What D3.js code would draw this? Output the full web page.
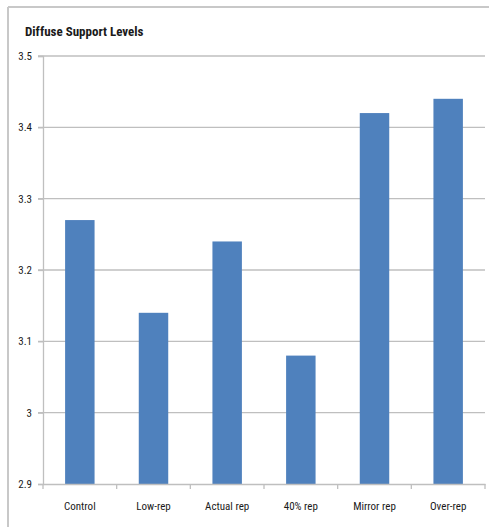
<!DOCTYPE html>
<html>
<head>
<meta charset="utf-8">
<script src="https://cdn.jsdelivr.net/npm/d3@7"></script>
<style>
  html, body { margin: 0; padding: 0; background: #fff; }
  svg { display: block; }
  text { font-family: "Liberation Sans Narrow", "Arial Narrow", "Roboto Condensed", "Liberation Sans", sans-serif; fill: #1a1a1a; }
</style>
</head>
<body>
<svg id="chart" width="489" height="527"></svg>
<script>
const categories = ["Control", "Low-rep", "Actual rep", "40% rep", "Mirror rep", "Over-rep"];
const values = [3.27, 3.14, 3.24, 3.08, 3.42, 3.44];
const yTicks = [2.9, 3, 3.1, 3.2, 3.3, 3.4, 3.5];
const yTickLabels = ["2.9", "3", "3.1", "3.2", "3.3", "3.4", "3.5"];
const title = "Diffuse Support Levels";

const svg = d3.select("#chart");
const W = 489, H = 527;
const m = { left: 43, right: 4, top: 56, bottom: 43 };

// outer frame (left and top edges)
svg.append("line").attr("x1", 8).attr("x2", 8).attr("y1", 7).attr("y2", H)
  .attr("stroke", "#c8c8c8").attr("stroke-width", 2);
svg.append("line").attr("x1", 8).attr("x2", W).attr("y1", 7).attr("y2", 7)
  .attr("stroke", "#c8c8c8").attr("stroke-width", 2);

const x = d3.scaleBand().domain(categories).range([m.left, W - m.right]).padding(0);
const y = d3.scaleLinear().domain([2.9, 3.5]).range([H - m.bottom, m.top]);

// gridlines
svg.append("g").selectAll("line").data(yTicks.filter(d => d > 2.9)).join("line")
  .attr("x1", m.left - 5).attr("x2", W - m.right)
  .attr("y1", d => y(d)).attr("y2", d => y(d))
  .attr("stroke", "#bfbfbf").attr("stroke-width", 1.3);

// bars
const bw = x.bandwidth() * 0.4;
svg.append("g").selectAll("rect").data(categories).join("rect")
  .attr("x", d => x(d) + (x.bandwidth() - bw) / 2)
  .attr("width", bw)
  .attr("y", (d, i) => y(values[i]))
  .attr("height", (d, i) => y(2.9) - y(values[i]))
  .attr("fill", "#4f81bd");

// y axis
const yAxis = d3.axisLeft(y).tickValues(yTicks).tickSize(5).tickPadding(6)
  .tickFormat((d, i) => yTickLabels[i]);
const gy = svg.append("g").attr("transform", `translate(${m.left},0)`).call(yAxis);
gy.select(".domain").attr("stroke", "#bfbfbf").attr("stroke-width", 1.3);
gy.selectAll(".tick line").attr("stroke", "#bfbfbf").attr("stroke-width", 1.3);
gy.selectAll(".tick text").style("font-size", "11px").attr("fill", "#1a1a1a");

// x axis
const xAxis = d3.axisBottom(x).tickSize(0).tickPadding(18);
const gx = svg.append("g").attr("transform", `translate(0,${y(2.9)})`).call(xAxis);
gx.select(".domain").attr("stroke", "#bfbfbf").attr("stroke-width", 1.3);
gx.selectAll(".tick text").style("font-size", "11px").attr("fill", "#1a1a1a");
// category boundary ticks
const bounds = categories.map(c => x(c)).concat([x(categories[categories.length - 1]) + x.bandwidth()]);
gx.selectAll(".bt").data(bounds).join("line").attr("class", "bt")
  .attr("x1", d => d).attr("x2", d => d).attr("y1", 0).attr("y2", 5)
  .attr("stroke", "#bfbfbf").attr("stroke-width", 1.3);

// title
svg.append("text").attr("x", 25).attr("y", 36).text(title)
  .style("font-size", "13px").style("font-weight", "bold");
</script>
</body>
</html>
